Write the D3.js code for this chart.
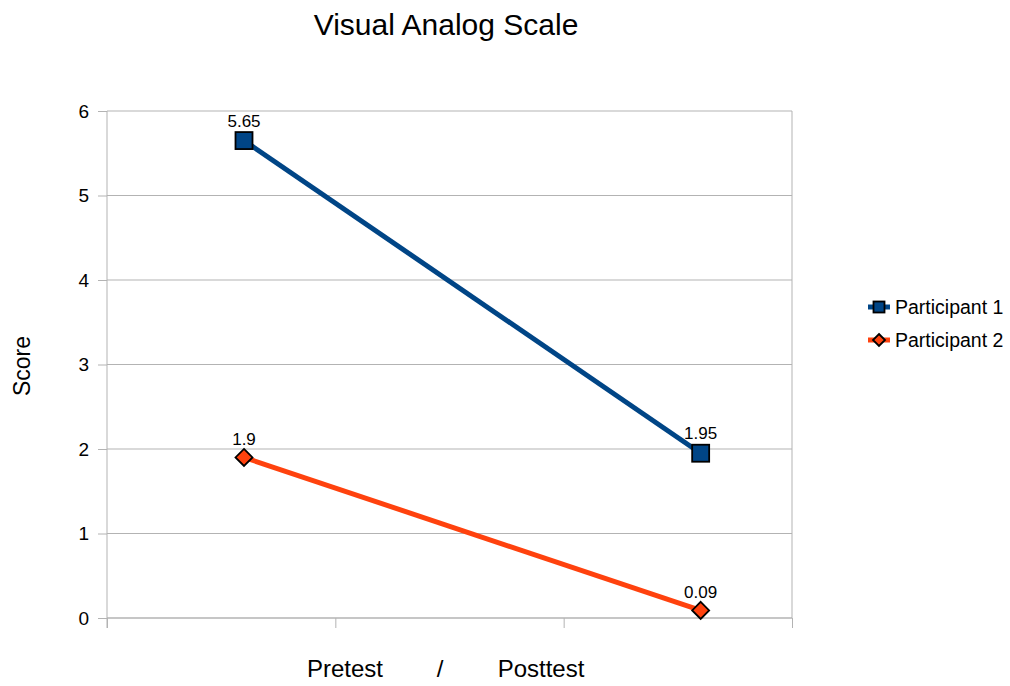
<!DOCTYPE html>
<html><head><meta charset="utf-8">
<script src="https://cdn.jsdelivr.net/npm/d3@7"></script>
<style>body{margin:0;background:#fff}svg{display:block}text{font-family:"Liberation Sans",Arial,sans-serif;fill:#000}</style>
</head><body><svg id="c" width="1010" height="686"></svg>
<script>
const categories = ["Pretest", "Posttest"];
const xPositions = [0.6, 2.6];
const participant1 = [5.65, 1.95];
const participant2 = [1.9, 0.09];
const seriesNames = ["Participant 1", "Participant 2"];
const yTicks = [0, 1, 2, 3, 4, 5, 6];
const xTicks = [0, 1, 2, 3];
const colors = ["#004586", "#ff420e"];

const svg = d3.select("#c");
const L = 107, R = 792, T = 111, B = 618;
const x = d3.scaleLinear().domain([0, 3]).range([L, R]);
const y = d3.scaleLinear().domain([0, 6]).range([B, T]);
const grid = "#b3b3b3";

svg.append("g").selectAll("line").data(yTicks).join("line")
  .attr("x1", L).attr("x2", R).attr("y1", d => y(d)).attr("y2", d => y(d))
  .attr("stroke", grid).attr("stroke-width", 1);
svg.append("line").attr("x1", R).attr("x2", R).attr("y1", T).attr("y2", B).attr("stroke", grid);

const ya = svg.append("g").attr("transform", `translate(${L},0)`)
  .call(d3.axisLeft(y).tickValues(yTicks).tickSize(9).tickPadding(9).tickFormat(d3.format("d")));
ya.select(".domain").attr("stroke", grid).attr("d", `M0,${T}V${B+10}`);
ya.selectAll(".tick line").attr("stroke", grid);
ya.selectAll("text").attr("font-size", 19).style("font-family", "Liberation Sans, Arial, sans-serif");

const xa = svg.append("g").attr("transform", `translate(0,${B})`)
  .call(d3.axisBottom(x).tickValues(xTicks).tickSize(10).tickFormat(""));
xa.select(".domain").attr("stroke", grid).attr("d", `M${L},0H${R}`);
xa.selectAll(".tick line").attr("stroke", grid);

const series = [participant1, participant2];
const line = d3.line().x((d, i) => x(xPositions[i])).y(d => y(d));
series.forEach((s, k) => {
  svg.append("path").attr("d", line(s)).attr("fill", "none")
    .attr("stroke", colors[k]).attr("stroke-width", 5);
});
function square(g, cx, cy, sz, col) {
  g.append("rect").attr("x", cx - sz/2).attr("y", cy - sz/2).attr("width", sz).attr("height", sz)
    .attr("fill", col).attr("stroke", "#000").attr("stroke-width", 1.8);
}
function diamond(g, cx, cy, r, col) {
  g.append("path").attr("d", `M${cx},${cy-r}L${cx+r},${cy}L${cx},${cy+r}L${cx-r},${cy}Z`)
    .attr("fill", col).attr("stroke", "#000").attr("stroke-width", 1.8);
}
participant1.forEach((v, i) => square(svg, x(xPositions[i]), y(v), 17, colors[0]));
participant2.forEach((v, i) => diamond(svg, x(xPositions[i]), y(v), 8.5, colors[1]));

series.forEach((s, k) => {
  svg.append("g").selectAll("text").data(s).join("text")
    .attr("x", (d, i) => x(xPositions[i])).attr("y", d => y(d) - (k === 0 ? 14 : 12.5))
    .attr("text-anchor", "middle").attr("font-size", 17).text(d => d);
});

svg.append("text").attr("x", 446).attr("y", 35).attr("text-anchor", "middle")
  .attr("font-size", 30).text("Visual Analog Scale");
svg.append("text").attr("transform", "translate(30,366) rotate(-90)").attr("text-anchor", "middle")
  .attr("font-size", 23).text("Score");
svg.append("text").attr("x", 345).attr("y", 677).attr("text-anchor", "middle").attr("font-size", 24).text(categories[0]);
svg.append("text").attr("x", 440).attr("y", 677).attr("text-anchor", "middle").attr("font-size", 24).text("/");
svg.append("text").attr("x", 541).attr("y", 677).attr("text-anchor", "middle").attr("font-size", 24).text(categories[1]);

seriesNames.forEach((n, k) => {
  const ly = 307 + k * 33;
  const g = svg.append("g");
  g.append("line").attr("x1", 868).attr("x2", 890).attr("y1", ly).attr("y2", ly)
    .attr("stroke", colors[k]).attr("stroke-width", 5);
  if (k === 0) square(g, 879, ly, 11, colors[0]); else diamond(g, 879, ly, 6, colors[1]);
  g.append("text").attr("x", 895).attr("y", ly + 7).attr("font-size", 19.5).text(n);
});
</script></body></html>
